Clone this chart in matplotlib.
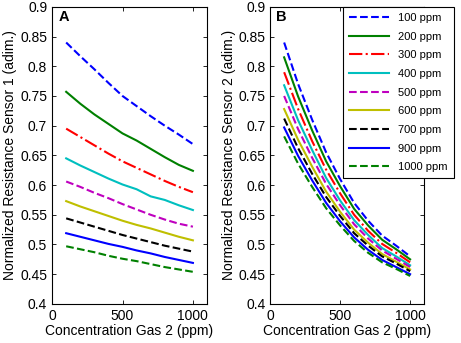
import numpy as np
import matplotlib.pyplot as plt

plt.rcParams['font.family'] = ['Liberation Sans', 'DejaVu Sans']

# concentration of gas 2 (ppm)
conc = [100, 200, 300, 400, 500, 600, 700, 800, 900, 1000]
labels = ['100 ppm', '200 ppm', '300 ppm', '400 ppm', '500 ppm',
          '600 ppm', '700 ppm', '900 ppm', '1000 ppm']
colors = [(0, 0, 1), (0, 0.5, 0), (1, 0, 0), (0, 0.75, 0.75), (0.75, 0, 0.75),
          (0.75, 0.75, 0), (0, 0, 0), (0, 0, 1), (0, 0.5, 0)]
styles = ['--', '-', '-.', '-', '--', '-', '--', '-', '--']

# sensor 1 response
s1_100 = [0.840, 0.817, 0.795, 0.772, 0.750, 0.733, 0.716, 0.700, 0.685, 0.669]
s1_200 = [0.757, 0.737, 0.719, 0.703, 0.687, 0.675, 0.661, 0.647, 0.634, 0.624]
s1_300 = [0.695, 0.681, 0.667, 0.653, 0.640, 0.629, 0.618, 0.607, 0.597, 0.588]
s1_400 = [0.645, 0.633, 0.622, 0.611, 0.601, 0.593, 0.581, 0.575, 0.566, 0.558]
s1_500 = [0.606, 0.597, 0.587, 0.578, 0.568, 0.559, 0.550, 0.542, 0.535, 0.530]
s1_600 = [0.573, 0.564, 0.556, 0.548, 0.540, 0.533, 0.527, 0.520, 0.513, 0.507]
s1_700 = [0.544, 0.537, 0.530, 0.523, 0.516, 0.510, 0.504, 0.498, 0.493, 0.488]
s1_900 = [0.519, 0.513, 0.507, 0.501, 0.496, 0.490, 0.485, 0.479, 0.474, 0.469]
s1_1000 = [0.497, 0.492, 0.487, 0.481, 0.476, 0.472, 0.467, 0.462, 0.458, 0.454]

# sensor 2 response
s2_100 = [0.840, 0.770, 0.710, 0.655, 0.610, 0.570, 0.540, 0.515, 0.498, 0.480]
s2_200 = [0.815, 0.749, 0.692, 0.640, 0.598, 0.560, 0.532, 0.508, 0.492, 0.475]
s2_300 = [0.790, 0.728, 0.674, 0.626, 0.586, 0.550, 0.523, 0.501, 0.486, 0.470]
s2_400 = [0.768, 0.709, 0.659, 0.612, 0.574, 0.541, 0.516, 0.494, 0.480, 0.465]
s2_500 = [0.750, 0.694, 0.646, 0.602, 0.566, 0.534, 0.510, 0.490, 0.476, 0.462]
s2_600 = [0.728, 0.676, 0.631, 0.589, 0.555, 0.525, 0.503, 0.484, 0.471, 0.458]
s2_700 = [0.712, 0.662, 0.619, 0.580, 0.548, 0.519, 0.498, 0.480, 0.468, 0.455]
s2_900 = [0.697, 0.649, 0.608, 0.570, 0.539, 0.512, 0.491, 0.474, 0.462, 0.450]
s2_1000 = [0.682, 0.636, 0.597, 0.561, 0.532, 0.506, 0.486, 0.470, 0.459, 0.447]

sensor1 = [s1_100, s1_200, s1_300, s1_400, s1_500, s1_600, s1_700, s1_900, s1_1000]
sensor2 = [s2_100, s2_200, s2_300, s2_400, s2_500, s2_600, s2_700, s2_900, s2_1000]

fig = plt.figure(figsize=(4.61, 3.43), dpi=100)
ax1 = fig.add_axes([0.113, 0.114, 0.336, 0.866])
ax2 = fig.add_axes([0.586, 0.114, 0.334, 0.866])

for ax, data, name, tag in [(ax1, sensor1, 'Normalized Resistance Sensor 1 (adim.)', 'A'),
                            (ax2, sensor2, 'Normalized Resistance Sensor 2 (adim.)', 'B')]:
    for y, c, ls, lab in zip(data, colors, styles, labels):
        ax.plot(conc, y, color=c, linestyle=ls, linewidth=1.5, label=lab)
    ax.set_xlim(0, 1100)
    ax.set_ylim(0.4, 0.9)
    ax.set_xticks([0, 500, 1000])
    ax.set_yticks(np.arange(0.4, 0.901, 0.05))
    ax.set_yticklabels(['0.4', '0.45', '0.5', '0.55', '0.6', '0.65', '0.7',
                        '0.75', '0.8', '0.85', '0.9'])
    ax.tick_params(direction='in', top=True, right=True, labelsize=10, length=3, width=0.6)
    ax.set_xlabel('Concentration Gas 2 (ppm)', fontsize=10, labelpad=1)
    ax.set_ylabel(name, fontsize=10, labelpad=2)
    ax.text(0.04, 0.99, tag, transform=ax.transAxes, fontsize=10.5,
            fontweight='bold', va='top', ha='left')
    for sp in ax.spines.values():
        sp.set_linewidth(0.8)

leg = ax2.legend(loc='upper left', bbox_to_anchor=(0.744, 0.980),
                 bbox_transform=fig.transFigure, fontsize=8, handlelength=3.6,
                 labelspacing=0.78, fancybox=False, framealpha=1,
                 borderaxespad=0, borderpad=0.55)
leg.get_frame().set_edgecolor('black')
leg.get_frame().set_linewidth(0.8)

fig.savefig('out.png', dpi=100)
